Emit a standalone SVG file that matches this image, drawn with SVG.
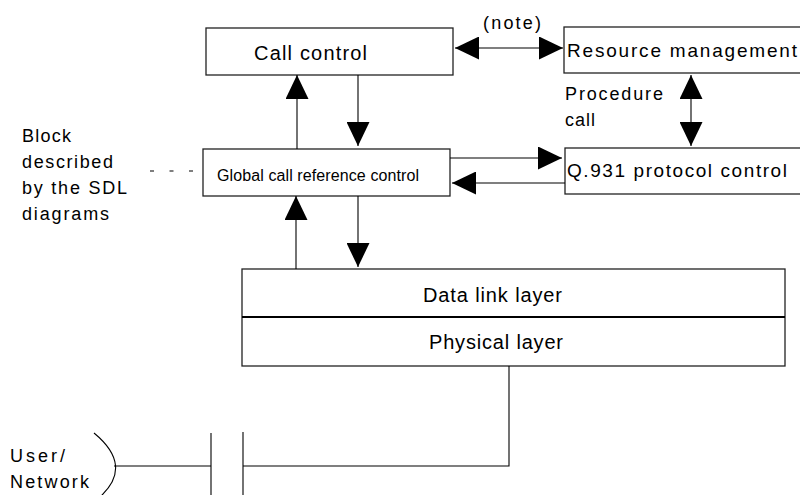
<svg xmlns="http://www.w3.org/2000/svg" width="800" height="495" viewBox="0 0 800 495">
  <style>
    .box { fill: #ffffff; stroke: #222222; stroke-width: 1.3; }
    .ln { fill: none; stroke: #000000; stroke-width: 1.1; }
    .t { font-family: "Liberation Sans", Arial, sans-serif; fill: #000000; }
  </style>
  <defs>
    <marker id="ah" viewBox="0 0 24 23" refX="24" refY="11.5" markerWidth="24" markerHeight="23" markerUnits="userSpaceOnUse" orient="auto-start-reverse">
      <path d="M0,0 L24,11.5 L0,23 Z" fill="#000000"/>
    </marker>
  </defs>
  <rect width="800" height="495" fill="#ffffff"/>

  <g id="call-control">
    <rect class="box" x="206" y="28" width="247" height="47"/>
    <text class="t" x="254" y="60" font-size="20" textLength="113">Call control</text>
  </g>

  <g id="resource-management">
    <rect class="box" x="564" y="27" width="245" height="46"/>
    <text class="t" x="567" y="57" font-size="19" textLength="230">Resource management</text>
  </g>

  <g id="global-call-reference-control">
    <rect class="box" x="203" y="149" width="247" height="47"/>
    <text class="t" x="217" y="181" font-size="16" textLength="202">Global call reference control</text>
  </g>

  <g id="q931-protocol-control">
    <rect class="box" x="565" y="148" width="245" height="46"/>
    <text class="t" x="567" y="177" font-size="19" textLength="220">Q.931 protocol control</text>
  </g>

  <g id="layers">
    <rect class="box" x="242" y="269" width="543" height="97"/>
    <line x1="242" y1="317" x2="785" y2="317" stroke="#000000" stroke-width="2"/>
    <text class="t" x="423" y="302" font-size="20" textLength="139">Data link layer</text>
    <text class="t" x="429" y="349" font-size="20" textLength="134">Physical layer</text>
  </g>

  <g id="labels">
    <text class="t" x="483" y="29" font-size="18" textLength="58">(note)</text>
    <text class="t" x="565" y="100" font-size="18" textLength="98">Procedure</text>
    <text class="t" x="565" y="126" font-size="18" textLength="30">call</text>
    <text class="t" x="22" y="142" font-size="18" textLength="49">Block</text>
    <text class="t" x="22" y="168" font-size="18" textLength="91">described</text>
    <text class="t" x="22" y="194" font-size="18" textLength="105">by the SDL</text>
    <text class="t" x="22" y="220" font-size="18" textLength="87">diagrams</text>
    <text class="t" x="10" y="462" font-size="18" textLength="55">User/</text>
    <text class="t" x="10" y="488" font-size="18" textLength="79">Network</text>
  </g>

  <g id="connectors">
    <line class="ln" x1="455" y1="48" x2="563" y2="48" marker-start="url(#ah)" marker-end="url(#ah)"/>
    <line class="ln" x1="297" y1="149" x2="297" y2="75" marker-end="url(#ah)"/>
    <line class="ln" x1="358" y1="75" x2="358" y2="146" marker-end="url(#ah)"/>
    <line class="ln" x1="691" y1="75" x2="691" y2="146" marker-start="url(#ah)" marker-end="url(#ah)"/>
    <line class="ln" x1="450" y1="158" x2="562" y2="158" marker-end="url(#ah)"/>
    <line class="ln" x1="565" y1="183" x2="452" y2="183" marker-end="url(#ah)"/>
    <line class="ln" x1="296" y1="269" x2="296" y2="196" marker-end="url(#ah)"/>
    <line class="ln" x1="358" y1="196" x2="358" y2="267" marker-end="url(#ah)"/>
    <line class="ln" x1="150" y1="171" x2="194" y2="171" stroke-dasharray="4 15.5"/>
    <polyline class="ln" points="509,366 509,466 243,466"/>
    <line class="ln" x1="243" y1="432" x2="243" y2="495"/>
    <line class="ln" x1="211" y1="433" x2="211" y2="495"/>
    <line class="ln" x1="114" y1="466" x2="211" y2="466"/>
    <path class="ln" d="M94,433 Q134,466 100,497"/>
  </g>
</svg>
